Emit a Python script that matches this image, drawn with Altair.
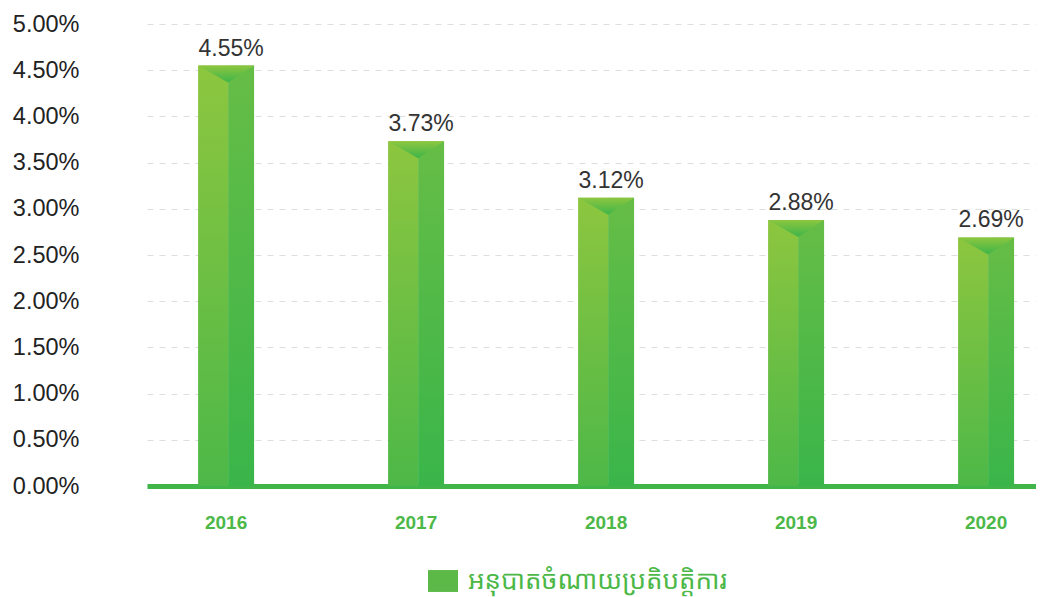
import altair as alt
import pandas as pd

# ---- data ----
years = ["2016", "2017", "2018", "2019", "2020"]
ratio_pct = [4.55, 3.73, 3.12, 2.88, 2.69]
y_ticks = [0.0, 0.5, 1.0, 1.5, 2.0, 2.5, 3.0, 3.5, 4.0, 4.5, 5.0]
series_name = "អនុបាតចំណាយប្រតិបត្តិការ"

df = pd.DataFrame({
    "year": years,
    "ratio": ratio_pct,
    "series": [series_name] * len(years),
})

GREEN = "#4cb848"
FONT = "Liberation Sans"


def vgrad(top, bottom):
    return alt.LinearGradient(
        gradient="linear",
        stops=[alt.GradientStop(color=top, offset=0),
               alt.GradientStop(color=bottom, offset=1)],
        x1=0, x2=0, y1=0, y2=1,
    )


x = alt.X(
    "year:N",
    scale=alt.Scale(type="band", paddingInner=0.705, paddingOuter=0.192, align=0.70),
    axis=alt.Axis(
        title=None, labelAngle=0, labelFont=FONT, labelFontSize=19,
        labelFontWeight="bold", labelColor=GREEN, labelPadding=27,
        ticks=False, domain=True, domainColor="#3fb54a", domainWidth=5, grid=False,
    ),
)
y = alt.Y(
    "ratio:Q",
    scale=alt.Scale(domain=[0, 5], nice=False, zero=True),
    axis=alt.Axis(
        title=None, values=y_ticks,
        labelExpr="format(datum.value, '.2f') + '%'",
        labelFont=FONT, labelFontSize=23.5, labelColor="#222222",
        labelPadding=68, ticks=False, domain=False,
        grid=True, gridColor="#dedede", gridDash=[6, 6], gridWidth=1.2,
    ),
)

base = alt.Chart(df)

left_face = base.mark_bar(width=30, xOffset=-13, fill=vgrad("#8dc63f", "#4db848")).encode(x=x, y=y)
right_face = base.mark_bar(width=26, xOffset=15, fill=vgrad("#66bd46", "#3ab54a")).encode(x=x, y=y)
top_face = base.mark_point(
    shape="M-1,0L1,0L0.07,0.607Z", size=3136, filled=True, opacity=1,
    strokeWidth=0, fill=vgrad("#8dc63f", "#3db54a"),
).encode(x=x, y=y)

legend_layer = base.mark_bar(width=1).encode(
    x=x, y=y, y2=alt.Y2("ratio:Q"),
    color=alt.Color(
        "series:N",
        scale=alt.Scale(range=["#5cb947"]),
        legend=alt.Legend(
            title=None, orient="none", legendX=281, legendY=542,
            symbolType="M-1,-0.73L1,-0.73L1,0.73L-1,0.73Z", symbolSize=900,
            symbolStrokeWidth=0, labelFontSize=26, labelColor=GREEN,
            labelFont="Noto Sans Khmer, Khmer OS, Noto Sans, sans-serif",
            labelOffset=10, labelLimit=0, padding=0,
        ),
    ),
)

labels = base.transform_calculate(
    label="format(datum.ratio, '.2f') + '%'"
).mark_text(
    dx=5, dy=-10, baseline="alphabetic", align="center",
    fontSize=23, color="#333333", font=FONT,
).encode(x=x, y=y, text="label:N")

chart = alt.layer(left_face, right_face, top_face, legend_layer, labels).properties(
    width=889, height=462,
    autosize=alt.AutoSizeParams(type="none"),
    padding={"left": 139, "top": 16, "right": 0, "bottom": 115},
).configure(font=FONT).configure_view(stroke="transparent", strokeWidth=0)

chart.save("out.html", embed_options={"renderer": "svg", "actions": False})
